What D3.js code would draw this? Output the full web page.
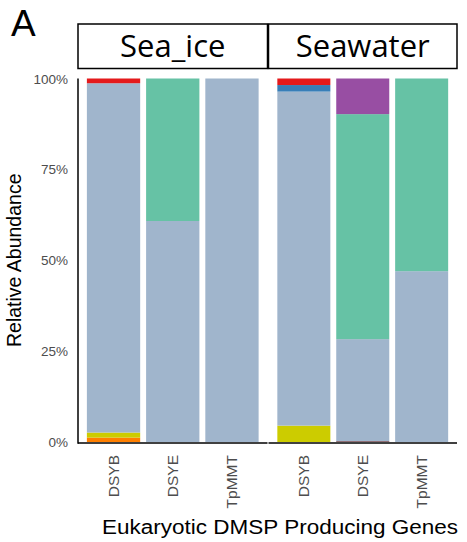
<!DOCTYPE html>
<html>
<head>
<meta charset="utf-8">
<script src="https://cdn.jsdelivr.net/npm/d3@7"></script>
<style>
  html, body { margin: 0; padding: 0; background: #fff; }
  svg { display: block; }
  text { font-family: "Liberation Sans", Arial, Helvetica, sans-serif; }
</style>
</head>
<body>
<svg id="chart" width="467" height="542"></svg>
<script>
// Facets (sample type) and genes shown in each facet
const facets = ["Sea_ice", "Seawater"];
const genes = ["DSYB", "DSYE", "TpMMT"];

// Taxonomic groups, in stacking order from the bottom up
const groups = ["Group1", "Group2", "Group3", "Group4", "Group5", "Group6", "Group7", "Group8"];
const groupColors = ["#ff7f00", "#cccc00", "#5c1515", "#a0b5cc", "#66c2a5", "#377eb8", "#984ea3", "#e41a1c"];

// Relative abundance (%) per gene and group, one array per facet
const seaIceDSYB   = [1.2, 1.4, 0,   96.1, 0,    0,   0,   1.3];
const seaIceDSYE   = [0,   0,   0,   60.8, 39.2, 0,   0,   0];
const seaIceTpMMT  = [0,   0,   0,   100,  0,    0,   0,   0];
const seawaterDSYB  = [0,  4.5, 0,   91.9, 0,    1.8, 0,   1.8];
const seawaterDSYE  = [0,  0,   0.2, 28.1, 61.9, 0,   9.8, 0];
const seawaterTpMMT = [0,  0,   0,   47.0, 53.0, 0,   0,   0];

const yTicks = [0, 25, 50, 75, 100];
const xTitle = "Eukaryotic DMSP Producing Genes";
const yTitle = "Relative Abundance";
const panelTag = "A";

const values = {
  Sea_ice:  { DSYB: seaIceDSYB, DSYE: seaIceDSYE, TpMMT: seaIceTpMMT },
  Seawater: { DSYB: seawaterDSYB, DSYE: seawaterDSYE, TpMMT: seawaterTpMMT }
};

const svg = d3.select("#chart");

// Panel geometry
const plotTop = 78.5, plotBottom = 442;
const panels = [{ x0: 78, x1: 267.5 }, { x0: 268.5, x1: 457 }];
const stripTop = 24, stripBottom = 68.5;

const y = d3.scaleLinear().domain([0, 100]).range([plotBottom, plotTop]);
const color = d3.scaleOrdinal().domain(groups).range(groupColors);
const stack = d3.stack().keys(groups);

facets.forEach((facet, fi) => {
  const p = panels[fi];
  // Discrete axis with 0.6 units of expansion on each side, bars 0.9 units wide
  const x = d3.scalePoint().domain(genes).range([p.x0, p.x1]).padding(0.6);
  const unit = x.step();
  const bw = unit * 0.9;

  const rows = genes.map(g => {
    const r = { gene: g };
    groups.forEach((k, i) => r[k] = values[facet][g][i]);
    return r;
  });
  const series = stack(rows);

  svg.append("g").selectAll("g.layer")
    .data(series)
    .join("g")
      .attr("class", "layer")
      .attr("fill", d => color(d.key))
    .selectAll("rect")
    .data(d => d.filter(s => s[1] - s[0] > 0))
    .join("rect")
      .attr("x", d => x(d.data.gene) - bw / 2)
      .attr("width", bw)
      .attr("y", d => y(d[1]))
      .attr("height", d => y(d[0]) - y(d[1]));

  // Strip label box
  svg.append("rect")
    .attr("x", p.x0).attr("y", stripTop)
    .attr("width", p.x1 - p.x0).attr("height", stripBottom - stripTop)
    .attr("fill", "#fff").attr("stroke", "#000").attr("stroke-width", 1.5);
  svg.append("text")
    .attr("x", (p.x0 + p.x1) / 2).attr("y", (stripTop + stripBottom) / 2 + 11)
    .attr("text-anchor", "middle")
    .style("font-family", "'Open Sans', sans-serif")
    .attr("font-size", 31)
    .text(facet);

  // Bottom axis line
  svg.append("line")
    .attr("x1", p.x0).attr("x2", p.x1)
    .attr("y1", plotBottom + 1).attr("y2", plotBottom + 1)
    .attr("stroke", "#000").attr("stroke-width", 1.5);

  // Rotated gene labels
  genes.forEach(g => {
    svg.append("text")
      .attr("transform", `translate(${x(g) + 5.5},${plotBottom + 13}) rotate(-90)`)
      .attr("text-anchor", "end")
      .attr("font-size", 15.5)
      .attr("fill", "#4d4d4d")
      .text(g);
  });
});

// Y axis
svg.append("line")
  .attr("x1", 78).attr("x2", 78)
  .attr("y1", plotTop).attr("y2", plotBottom + 1.75)
  .attr("stroke", "#000").attr("stroke-width", 1.5);
svg.selectAll("text.ytick")
  .data(yTicks)
  .join("text")
    .attr("class", "ytick")
    .attr("x", 68)
    .attr("y", d => y(d) + 5)
    .attr("text-anchor", "end")
    .attr("font-size", 13.5)
    .attr("fill", "#4d4d4d")
    .text(d => d + "%");

// Axis titles and panel tag
svg.append("text")
  .attr("transform", `translate(21,${(plotTop + plotBottom) / 2}) rotate(-90)`)
  .attr("text-anchor", "middle")
  .attr("font-size", 19.5)
  .text(yTitle);
svg.append("text")
  .attr("x", 280).attr("y", 534)
  .attr("text-anchor", "middle")
  .attr("font-size", 20)
  .attr("textLength", 356)
  .attr("lengthAdjust", "spacingAndGlyphs")
  .text(xTitle);
svg.append("text")
  .attr("x", 11).attr("y", 36)
  .attr("font-size", 37)
  .text(panelTag);
</script>
</body>
</html>
